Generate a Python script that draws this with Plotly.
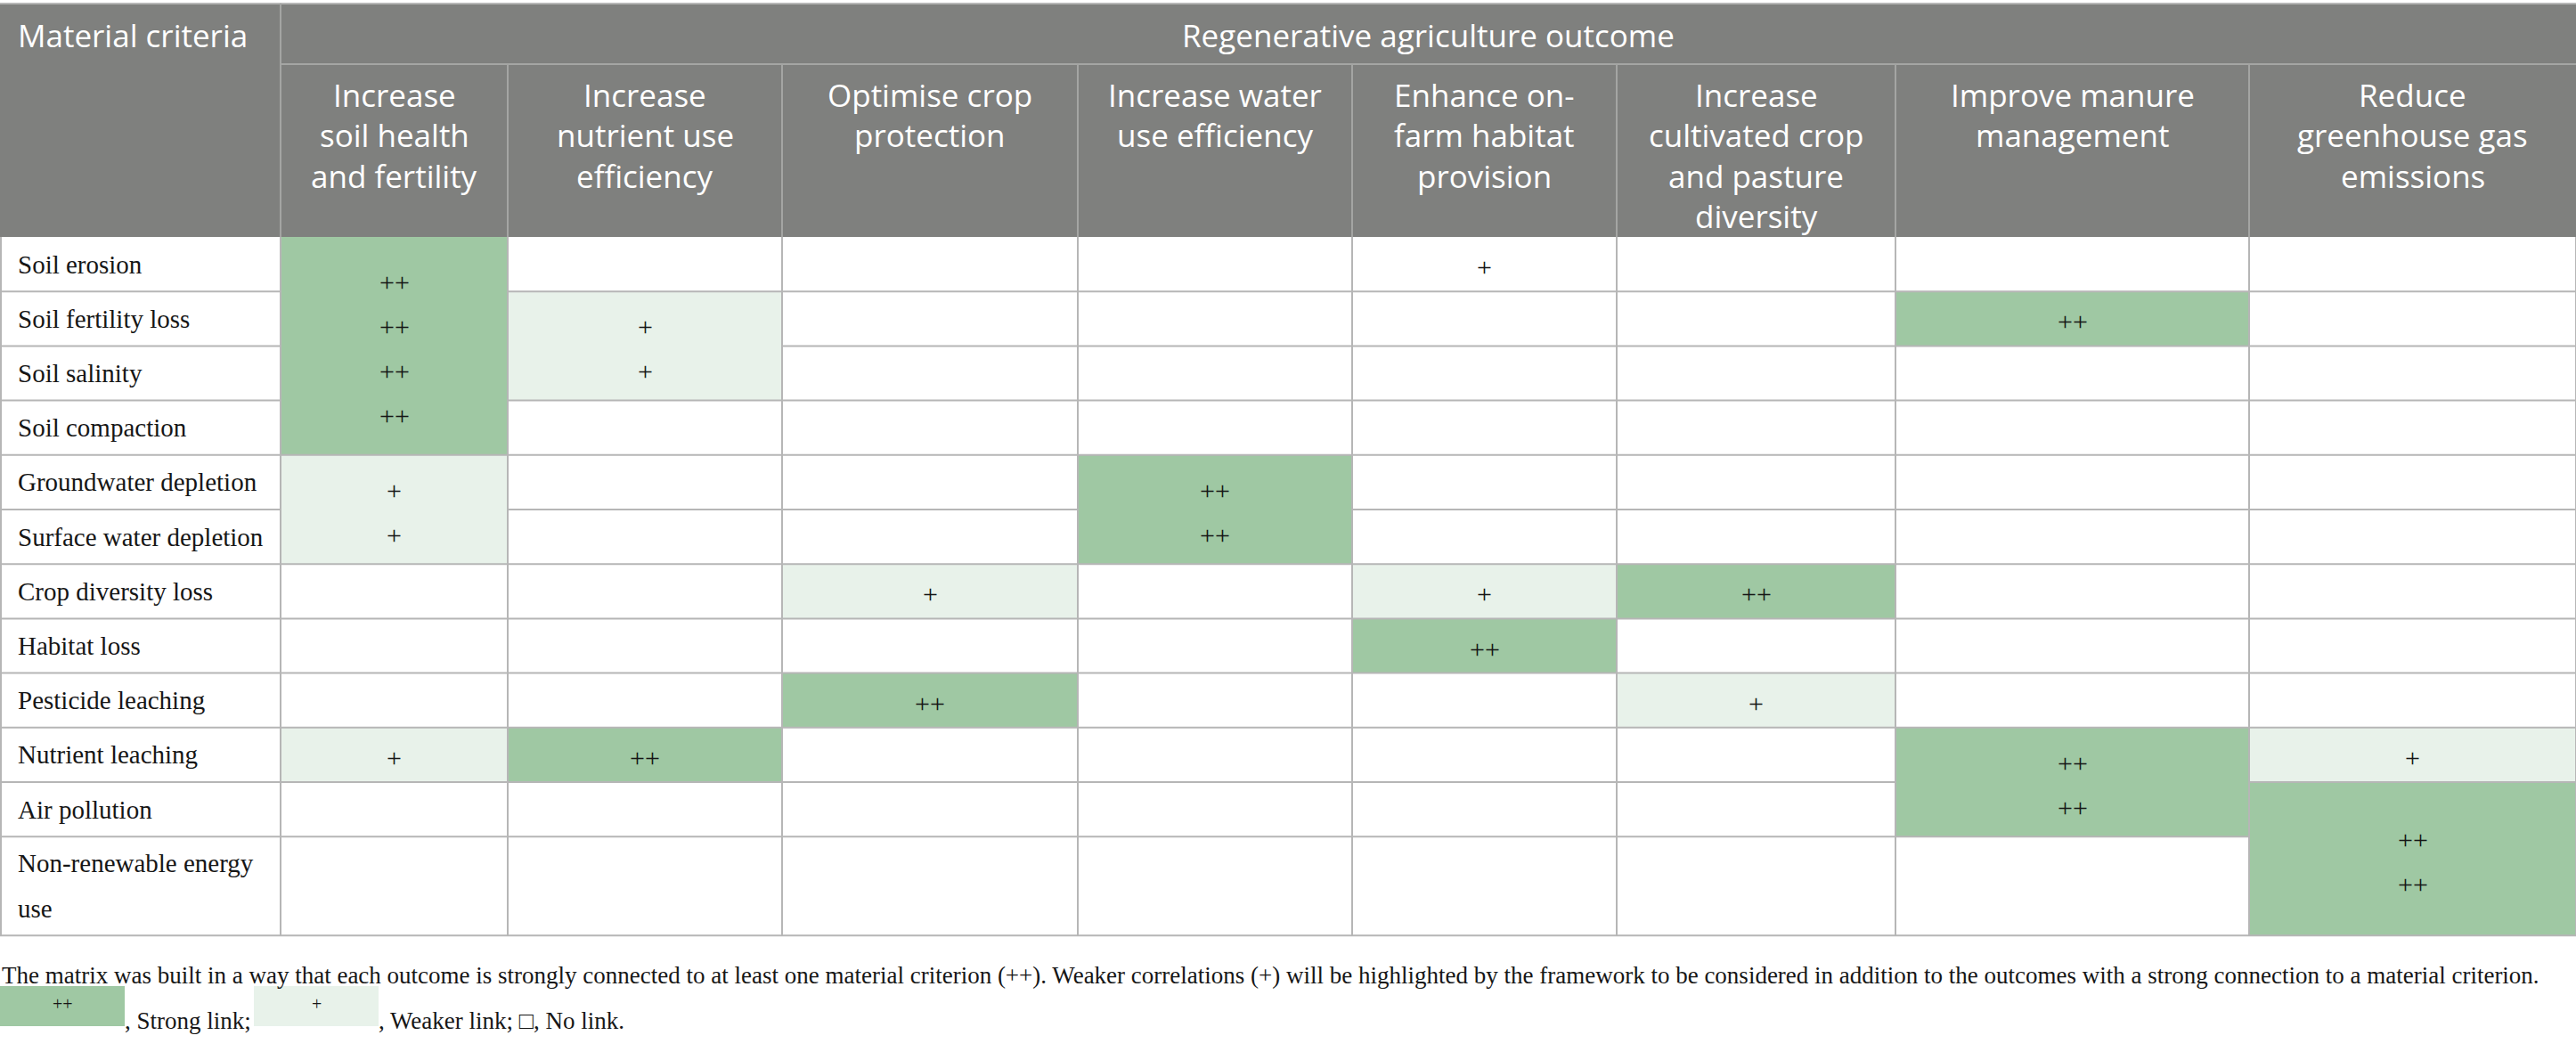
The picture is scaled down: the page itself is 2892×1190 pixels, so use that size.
import plotly.graph_objects as go

# ---- data -------------------------------------------------------------
header_left = "Material criteria"
header_group = "Regenerative agriculture outcome"

outcomes = [
    "Increase soil health and fertility",
    "Increase nutrient use efficiency",
    "Optimise crop protection",
    "Increase water use efficiency",
    "Enhance on-farm habitat provision",
    "Increase cultivated crop and pasture diversity",
    "Improve manure management",
    "Reduce greenhouse gas emissions",
]

# wrapped header labels, as printed
outcome_labels = [
    "Increase<br>soil health<br>and fertility",
    "Increase<br>nutrient use<br>efficiency",
    "Optimise crop<br>protection",
    "Increase water<br>use efficiency",
    "Enhance on-<br>farm habitat<br>provision",
    "Increase<br>cultivated crop<br>and pasture<br>diversity",
    "Improve manure<br>management",
    "Reduce<br>greenhouse gas<br>emissions",
]

criteria = [
    "Soil erosion",
    "Soil fertility loss",
    "Soil salinity",
    "Soil compaction",
    "Groundwater depletion",
    "Surface water depletion",
    "Crop diversity loss",
    "Habitat loss",
    "Pesticide leaching",
    "Nutrient leaching",
    "Air pollution",
    "Non-renewable energy<br>use",
]

# one row per criterion, one column per outcome
links = [
    ["++", "", "", "", "+", "", "", ""],
    ["++", "+", "", "", "", "", "++", ""],
    ["++", "+", "", "", "", "", "", ""],
    ["++", "", "", "", "", "", "", ""],
    ["+", "", "", "++", "", "", "", ""],
    ["+", "", "", "++", "", "", "", ""],
    ["", "", "+", "", "+", "++", "", ""],
    ["", "", "", "", "++", "", "", ""],
    ["", "", "++", "", "", "+", "", ""],
    ["+", "++", "", "", "", "", "++", "+"],
    ["", "", "", "", "", "", "++", "++"],
    ["", "", "", "", "", "", "", "++"],
]

# cells printed with a mark but without shading
unshaded = [("Soil erosion", "Enhance on-farm habitat provision")]

footnote = ("The matrix was built in a way that each outcome is strongly connected to at least one "
            "material criterion (++). Weaker correlations (+) will be highlighted by the framework to be "
            "considered in addition to the outcomes with a strong connection to a material criterion.")

# ---- layout constants (pixels) ---------------------------------------
W, H = 2892, 1190
col_edges = [0, 315, 570, 878, 1210, 1518, 1815, 2128, 2525, 2892]
TABLE_TOP = 4
HEAD1_BOTTOM = 72
HEAD_BOTTOM = 266
ROW_H = 61.2
LAST_ROW_H = 111
row_edges = [HEAD_BOTTOM + i * ROW_H for i in range(len(criteria))]
row_edges.append(row_edges[-1] + LAST_ROW_H)

HEADER_BG = "#7f807e"
HEADER_LINE = "#a4a5a3"
GRID = "#b6b6b6"
STRONG = "#9fc8a3"
WEAK = "#e8f2ea"
TEXT = "#161616"
SERIF = "Liberation Serif"
SANS = "Open Sans"
HEAD_SIZE = 35
HEAD_GAP = 45.5
BODY_SIZE = 29
MARK_GAP = 50

n_rows, n_cols = len(criteria), len(outcomes)


def level(r, c):
    v = links[r][c]
    if v == "" or (criteria[r], outcomes[c]) in unshaded:
        return 0
    return 2 if v == "++" else 1


z = [[level(r, c) for c in range(n_cols)] for r in range(n_rows)]

fig = go.Figure()
fig.add_trace(go.Heatmap(
    x=col_edges[1:],
    y=row_edges,
    z=z,
    zmin=0, zmax=2,
    colorscale=[[0, "#ffffff"], [0.33, "#ffffff"], [0.33, WEAK], [0.66, WEAK],
                [0.66, STRONG], [1, STRONG]],
    showscale=False,
    hoverinfo="skip",
))

shapes = []
# header background and header rules
shapes.append(dict(type="rect", x0=0, x1=W, y0=TABLE_TOP, y1=HEAD_BOTTOM,
                   fillcolor=HEADER_BG, line_width=0, layer="below"))
shapes.append(dict(type="line", x0=0, x1=W, y0=TABLE_TOP, y1=TABLE_TOP,
                   line=dict(color=GRID, width=2)))
shapes.append(dict(type="line", x0=col_edges[1], x1=col_edges[1], y0=TABLE_TOP, y1=HEAD_BOTTOM,
                   line=dict(color=HEADER_LINE, width=2)))
shapes.append(dict(type="line", x0=col_edges[1], x1=W, y0=HEAD1_BOTTOM, y1=HEAD1_BOTTOM,
                   line=dict(color=HEADER_LINE, width=2)))
for xe in col_edges[2:-1]:
    shapes.append(dict(type="line", x0=xe, x1=xe, y0=HEAD1_BOTTOM, y1=HEAD_BOTTOM,
                       line=dict(color=HEADER_LINE, width=2)))

# vertical grid in the body
for xe in col_edges[1:]:
    shapes.append(dict(type="line", x0=xe, x1=xe, y0=HEAD_BOTTOM, y1=row_edges[-1],
                       line=dict(color=GRID, width=2)))
shapes.append(dict(type="line", x0=1, x1=1, y0=HEAD_BOTTOM, y1=row_edges[-1],
                   line=dict(color=GRID, width=2)))

# horizontal grid, skipped inside merged blocks
for r in range(1, n_rows + 1):
    y = row_edges[r]
    shapes.append(dict(type="line", x0=0, x1=col_edges[1], y0=y, y1=y,
                       line=dict(color=GRID, width=2)))
    for c in range(n_cols):
        if r < n_rows and links[r][c] != "" and links[r][c] == links[r - 1][c] \
                and level(r, c) == level(r - 1, c):
            continue
        shapes.append(dict(type="line", x0=col_edges[c + 1], x1=col_edges[c + 2], y0=y, y1=y,
                           line=dict(color=GRID, width=2)))

head_font = dict(family=SANS, size=HEAD_SIZE, color="white")

annotations = []
head_y = (TABLE_TOP + HEAD1_BOTTOM) / 2 + 1
annotations.append(dict(x=18, y=head_y, text=header_left,
                        xanchor="left", yanchor="middle", showarrow=False, font=head_font))
annotations.append(dict(x=(col_edges[1] + W) / 2, y=head_y,
                        text=header_group, xanchor="center", yanchor="middle", showarrow=False,
                        font=head_font))
for c, lab in enumerate(outcome_labels):
    for k, ln in enumerate(lab.split("<br>")):
        annotations.append(dict(x=(col_edges[c + 1] + col_edges[c + 2]) / 2,
                                y=106 + k * HEAD_GAP, text=ln,
                                xanchor="center", yanchor="middle", showarrow=False,
                                font=head_font))

# row labels
for r, lab in enumerate(criteria):
    lines = lab.split("<br>")
    yc = (row_edges[r] + row_edges[r + 1]) / 2
    for k, ln in enumerate(lines):
        annotations.append(dict(x=18, y=yc + (k - (len(lines) - 1) / 2) * 51, text=ln,
                                xanchor="left", yanchor="middle", showarrow=False,
                                font=dict(family=SERIF, size=BODY_SIZE, color=TEXT)))

# link marks, one per row, stacked inside merged blocks
for c in range(n_cols):
    r = 0
    while r < n_rows:
        v = links[r][c]
        if v == "":
            r += 1
            continue
        r1 = r
        while r1 + 1 < n_rows and links[r1 + 1][c] == v and level(r1 + 1, c) == level(r, c):
            r1 += 1
        n = r1 - r + 1
        yc = (row_edges[r] + row_edges[r1 + 1]) / 2 + 3
        for k in range(n):
            annotations.append(dict(x=(col_edges[c + 1] + col_edges[c + 2]) / 2,
                                    y=yc + (k - (n - 1) / 2) * MARK_GAP, text=v,
                                    xanchor="center", yanchor="middle", showarrow=False,
                                    font=dict(family=SERIF, size=30, color=TEXT)))
        r = r1 + 1

# footnote and key
annotations.append(dict(x=0, y=1095, text=footnote, xanchor="left", yanchor="middle",
                        showarrow=False, font=dict(family=SERIF, size=27, color=TEXT)))
key_y0, key_y1 = 1107, 1152
for x0, x1, color, mark in [(0, 140, STRONG, "++"), (285, 425, WEAK, "+")]:
    shapes.append(dict(type="rect", x0=x0, x1=x1, y0=key_y0, y1=key_y1,
                       fillcolor=color, line_width=0))
    annotations.append(dict(x=(x0 + x1) / 2, y=1127, text=mark, xanchor="center",
                            yanchor="middle", showarrow=False,
                            font=dict(family=SERIF, size=20, color=TEXT)))
annotations.append(dict(x=138, y=1146, text=", Strong link;", xanchor="left", yanchor="middle",
                        showarrow=False, font=dict(family=SERIF, size=27, color=TEXT)))
annotations.append(dict(x=423, y=1146, text=", Weaker link; \u25a1, No link.", xanchor="left",
                        yanchor="middle", showarrow=False,
                        font=dict(family=SERIF, size=27, color=TEXT)))

fig.update_layout(
    width=W, height=H,
    margin=dict(l=0, r=0, t=0, b=0),
    paper_bgcolor="white", plot_bgcolor="white",
    xaxis=dict(range=[0, W], visible=False, fixedrange=True),
    yaxis=dict(range=[H, 0], visible=False, fixedrange=True),
    shapes=shapes,
    annotations=annotations,
    showlegend=False,
)

fig.write_html("out.html", config={"displayModeBar": False},
               post_script="document.body.style.margin='0';")
